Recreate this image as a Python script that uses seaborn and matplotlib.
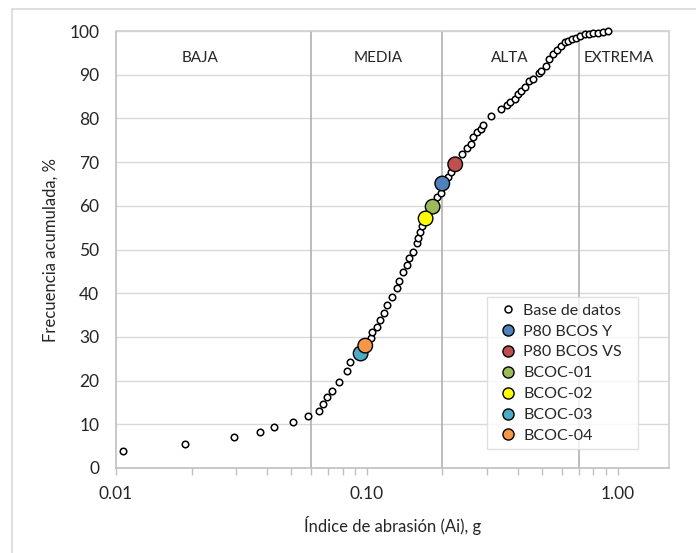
import matplotlib
matplotlib.use("Agg")
import matplotlib.pyplot as plt
import matplotlib.ticker as mticker
from matplotlib.lines import Line2D
import seaborn as sns
import pandas as pd
import numpy as np

# Base de datos (Ai, g ; frecuencia acumulada, %)
base_x = [0.0107, 0.0188, 0.0294, 0.0375, 0.0427, 0.0507, 0.0584, 0.0642, 0.0668,
          0.0695, 0.0723, 0.0776, 0.0830, 0.0855, 0.1040, 0.1050, 0.1093, 0.1123,
          0.1172, 0.1205, 0.1258, 0.1313, 0.1337, 0.1390, 0.1442, 0.1474, 0.1520,
          0.1585, 0.1596, 0.1621, 0.1652, 0.1900, 0.1966, 0.2104, 0.2155, 0.2399,
          0.2496, 0.2595, 0.2652, 0.2758, 0.2837, 0.2904, 0.3119, 0.3410, 0.3602,
          0.3733, 0.3888, 0.4010, 0.4130, 0.4286, 0.4418, 0.4598, 0.4842, 0.4965,
          0.5164, 0.5322, 0.5541, 0.5715, 0.5943, 0.6166, 0.6359, 0.6572, 0.6840,
          0.7100, 0.7380, 0.7680, 0.8000, 0.8340, 0.8730, 0.9120]
base_y = [3.96, 5.49, 7.02, 8.17, 9.31, 10.45, 11.97, 13.1, 14.65,
          16.2, 17.7, 19.6, 22.3, 24.2, 29.7, 31.1, 32.3, 33.9,
          35.4, 37.2, 39.1, 41.1, 42.9, 44.9, 46.5, 48.05, 49.5,
          51.4, 52.7, 54.1, 55.4, 61.9, 63.0, 66.7, 67.8, 71.8,
          73.2, 74.1, 75.7, 76.8, 77.6, 78.6, 80.5, 82.1, 83.1,
          83.7, 84.5, 85.5, 86.3, 87.1, 88.6, 89.0, 90.5, 90.9,
          92.1, 93.5, 94.7, 95.7, 96.6, 97.4, 97.8, 98.2, 98.5,
          98.9, 99.2, 99.4, 99.5, 99.6, 99.8, 100.0]

# Muestras
sample_names = ["P80 BCOS Y", "P80 BCOS VS", "BCOC-01", "BCOC-02", "BCOC-03", "BCOC-04"]
sample_x = [0.1997, 0.2249, 0.1828, 0.1714, 0.0944, 0.0985]
sample_y = [65.1, 69.5, 59.8, 57.1, 26.2, 28.0]
sample_colors = ["#4F81BD", "#C0504D", "#9BBB59", "#FFFF00", "#4BACC6", "#F79646"]

# Zonas
zone_limits = [0.06, 0.2, 0.7]
zone_names = ["BAJA", "MEDIA", "ALTA", "EXTREMA"]
zone_label_x = [0.0216, 0.1106, 0.371, 1.01]

x_ticks = [0.01, 0.1, 1.0]
x_ticklabels = ["0.01", "0.10", "1.00"]
y_ticks = list(range(0, 101, 10))

sns.set_theme(style="white")
plt.rcParams['font.family'] = ['Lato', 'DejaVu Sans']

fig = plt.figure(figsize=(6.96, 5.53), dpi=100)
W, H = 696, 553
ax = fig.add_axes([116 / W, 1 - 468 / H, (669 - 116) / W, (468 - 31) / H])

df_base = pd.DataFrame({"x": base_x, "y": base_y})
df_s = pd.DataFrame({"x": sample_x, "y": sample_y, "name": sample_names})

ax.set_xscale("log")
ax.set_xlim(0.01, 1.6)
ax.set_ylim(0, 100)

# grid
for yv in y_ticks[1:]:
    ax.axhline(yv, color="#d9d9d9", lw=1.0, zorder=0)
for xv in zone_limits:
    ax.axvline(xv, color="#b0b0b0", lw=1.2, zorder=0.5)

sns.scatterplot(data=df_base, x="x", y="y", ax=ax, s=22, color="white",
                edgecolor="black", linewidth=1.1, label="Base de datos", zorder=3)
sns.scatterplot(data=df_s, x="x", y="y", hue="name", hue_order=sample_names,
                palette=sample_colors, ax=ax, s=110, edgecolor="black",
                linewidth=1.0, zorder=4, legend=False)
for coll in ax.collections:
    coll.set_clip_on(False)

for name, xv in zip(zone_names, zone_label_x):
    ax.text(xv, 93.8, name, ha="center", va="center", fontsize=11, color="#262626")

ax.set_xticks(x_ticks)
ax.set_xticklabels(x_ticklabels)
ax.xaxis.set_minor_locator(mticker.LogLocator(base=10, subs=np.arange(2, 10)))
ax.xaxis.set_minor_formatter(mticker.NullFormatter())
ax.set_yticks(y_ticks)
ax.tick_params(axis="x", which="both", direction="out", length=5, width=1,
               color="#bfbfbf", labelsize=12.5, labelcolor="#262626", pad=8, bottom=True)
ax.tick_params(axis="y", length=0, labelsize=12.5, labelcolor="#262626", pad=12)

ax.set_xlabel("Índice de abrasión (Ai), g", fontsize=12, color="#262626", labelpad=10)
ax.set_ylabel("Frecuencia acumulada, %", fontsize=12, color="#262626", labelpad=8)

for side in ["top", "right"]:
    ax.spines[side].set_color("#d0d0d0")
    ax.spines[side].set_linewidth(1.2)
for side in ["left", "bottom"]:
    ax.spines[side].set_color("#bfbfbf")
    ax.spines[side].set_linewidth(1.2)

# legend
handles = [Line2D([0], [0], marker="o", linestyle="none", markersize=5,
                  markerfacecolor="white", markeredgecolor="black", markeredgewidth=1.1)]
for c in sample_colors:
    handles.append(Line2D([0], [0], marker="o", linestyle="none", markersize=8,
                          markerfacecolor=c, markeredgecolor="black", markeredgewidth=1.0))
labels = ["Base de datos"] + sample_names
leg_w = (638 - 487) / (669 - 116)
leg = ax.legend(handles, labels, loc="upper left",
                bbox_to_anchor=(0.671, 0.0, leg_w, 0.391), mode="expand",
                frameon=True, fancybox=False, fontsize=11.5, handlelength=1.8,
                handletextpad=0.05, borderpad=0.4, labelspacing=0.42,
                borderaxespad=0)
leg.get_frame().set_edgecolor("#d9d9d9")
leg.get_frame().set_linewidth(1.0)
for t in leg.get_texts():
    t.set_color("#262626")

# outer chart frame
fig.add_artist(Line2D([12 / W, 12 / W], [0, 1 - 9 / H], transform=fig.transFigure,
                      color="#d9d9d9", lw=1.2))
fig.add_artist(Line2D([12 / W, 1], [1 - 9 / H, 1 - 9 / H], transform=fig.transFigure,
                      color="#d9d9d9", lw=1.2))

fig.savefig("out.png", dpi=100)
